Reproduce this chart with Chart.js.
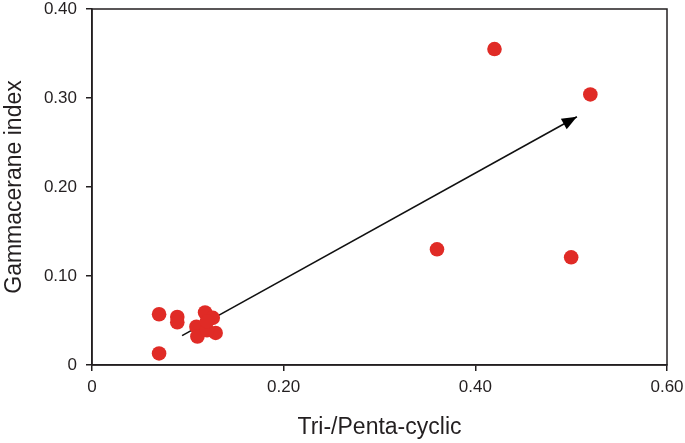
<!DOCTYPE html>
<html>
<head>
<meta charset="utf-8">
<script src="https://cdn.jsdelivr.net/npm/chart.js@4"></script>
<style>
html,body{margin:0;padding:0;background:#fff;}
#wrap{width:685px;height:443px;}
</style>
</head>
<body>
<div id="wrap"><canvas id="c" width="685" height="443"></canvas></div>
<script>
const triPenta = [0.52, 0.42, 0.36, 0.50, 0.07, 0.07, 0.089, 0.089, 0.118, 0.126, 0.109, 0.11, 0.129, 0.12, 0.12];
const gammacerane = [0.304, 0.355, 0.130, 0.121, 0.057, 0.013, 0.054, 0.048, 0.059, 0.053, 0.043, 0.032, 0.036, 0.039, 0.049];
const arrowX = [0.094, 0.506];
const arrowY = [0.033, 0.279];
const xTicks = [0, 0.2, 0.4, 0.6];
const yTicks = [0, 0.1, 0.2, 0.3, 0.4];

const fmt = v => (v === 0 ? '0' : v.toFixed(2));

const boxPlugin = {
  id: 'box',
  afterDraw(chart) {
    const {ctx, chartArea: a} = chart;
    ctx.save();
    ctx.strokeStyle = '#231f20';
    ctx.lineWidth = 1.5;
    ctx.strokeRect(a.left, a.top, a.right - a.left, a.bottom - a.top);
    ctx.restore();
  }
};

const arrowPlugin = {
  id: 'arrowhead',
  afterDatasetsDraw(chart) {
    const meta = chart.getDatasetMeta(1);
    const p0 = meta.data[0], p1 = meta.data[1];
    const ang = Math.atan2(p1.y - p0.y, p1.x - p0.x);
    const L = 15, W = 6;
    const ctx = chart.ctx;
    ctx.save();
    ctx.translate(p1.x, p1.y);
    ctx.rotate(ang);
    ctx.beginPath();
    ctx.moveTo(0, 0);
    ctx.lineTo(-L, -W);
    ctx.lineTo(-L, W);
    ctx.closePath();
    ctx.fillStyle = '#000';
    ctx.fill();
    ctx.restore();
  }
};

new Chart(document.getElementById('c'), {
  type: 'scatter',
  data: {
    datasets: [
      {
        data: triPenta.map((x, i) => ({x, y: gammacerane[i]})),
        backgroundColor: '#e02b26',
        borderWidth: 0,
        pointRadius: 7.3,
        pointHoverRadius: 7.3
      },
      {
        data: arrowX.map((x, i) => ({x, y: arrowY[i]})),
        showLine: true,
        borderColor: '#111',
        borderWidth: 1.6,
        pointRadius: 0,
        fill: false
      }
    ]
  },
  options: {
    responsive: false,
    animation: false,
    events: [],
    layout: {padding: {left: 0, right: 18, top: 9, bottom: 0}},
    plugins: {legend: {display: false}, tooltip: {enabled: false}},
    scales: {
      x: {
        type: 'linear', min: 0, max: 0.6,
        afterBuildTicks: s => { s.ticks = xTicks.map(v => ({value: v})); },
        afterFit: s => { s.height = 78; s.paddingLeft = 0; s.paddingRight = 0; },
        ticks: {callback: fmt, color: '#231f20', font: {family: 'Liberation Sans, Arial', size: 17}, padding: 6, maxRotation: 0},
        grid: {drawOnChartArea: false, drawTicks: true, tickLength: 6, color: '#231f20', lineWidth: 1.5},
        border: {color: '#231f20', width: 1.5},
        title: {display: true, text: 'Tri-/Penta-cyclic', color: '#231f20', font: {family: 'Liberation Sans, Arial', size: 23}, padding: {top: 4, bottom: 2}}
      },
      y: {
        type: 'linear', min: 0, max: 0.4,
        afterBuildTicks: s => { s.ticks = yTicks.map(v => ({value: v})); },
        afterFit: s => { s.width = 92; s.paddingTop = 0; s.paddingBottom = 0; },
        ticks: {callback: fmt, color: '#231f20', font: {family: 'Liberation Sans, Arial', size: 17}, padding: 9},
        grid: {drawOnChartArea: false, drawTicks: true, tickLength: 6, color: '#231f20', lineWidth: 1.5},
        border: {color: '#231f20', width: 1.5},
        title: {display: true, text: 'Gammacerane index', color: '#231f20', font: {family: 'Liberation Sans, Arial', size: 23}, padding: {top: 1, bottom: 4}}
      }
    }
  },
  plugins: [boxPlugin, arrowPlugin]
});
</script>
</body>
</html>
